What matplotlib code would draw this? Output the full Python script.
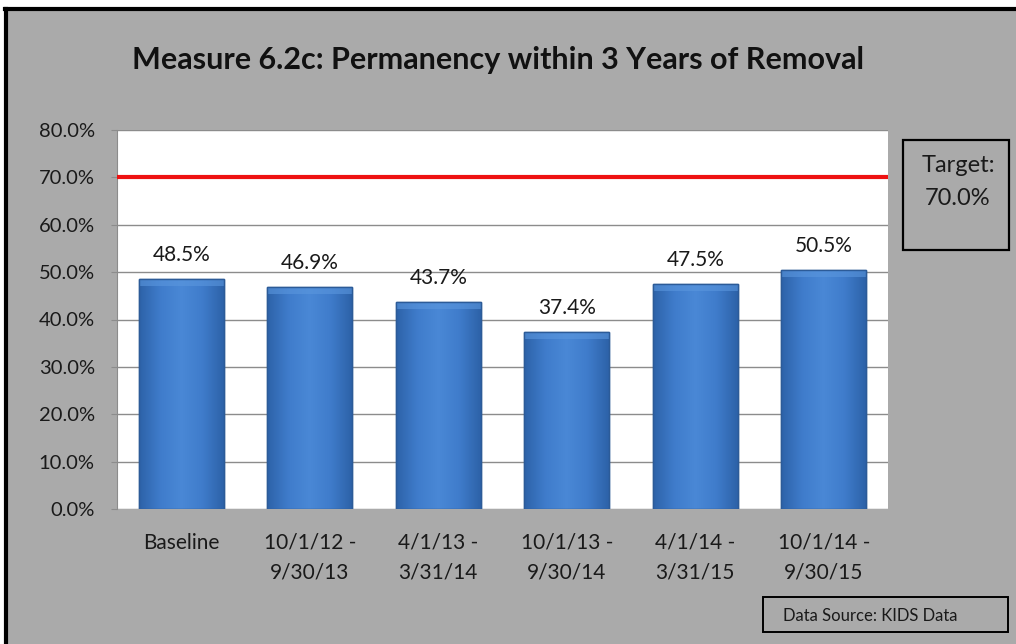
import matplotlib
matplotlib.use("Agg")
import matplotlib.pyplot as plt
import numpy as np
from matplotlib.patches import Rectangle
from matplotlib.lines import Line2D
from matplotlib.colors import LinearSegmentedColormap

categories = ["Baseline", "10/1/12 -\n9/30/13", "4/1/13 -\n3/31/14",
              "10/1/13 -\n9/30/14", "4/1/14 -\n3/31/15", "10/1/14 -\n9/30/15"]
values = [48.5, 46.9, 43.7, 37.4, 47.5, 50.5]
target = 70.0
yticks = [0, 10, 20, 30, 40, 50, 60, 70, 80]

plt.rcParams['font.family'] = ['Lato', 'DejaVu Sans']
bg = '#aaaaaa'
fig = plt.figure(figsize=(10.16, 6.44), dpi=100)
fig.patch.set_facecolor('white')
# gray panel with black border on top and left
fig.patches.append(Rectangle((5/1016, 0), 1.0, (644-9)/644, transform=fig.transFigure,
                             facecolor=bg, edgecolor='none', zorder=-5))
fig.lines.append(Line2D([5/1016, 1.0], [(644-9)/644] * 2, transform=fig.transFigure,
                        color='black', linewidth=3, zorder=-4))
fig.lines.append(Line2D([6/1016] * 2, [0, (644-9)/644], transform=fig.transFigure,
                        color='black', linewidth=3, zorder=-4))

ax = fig.add_axes([117/1016, (644-509)/644, 771/1016, 379/644])
ax.set_zorder(1)
ax.set_facecolor('white')
x = np.arange(len(categories))
bars = ax.bar(x, values, width=0.66, color='#3b77c6', edgecolor='#2c5b98', linewidth=1.0, zorder=3)

cmap = LinearSegmentedColormap.from_list('b', ['#2d62a8', '#3f7ccb', '#4a88d6', '#3f7ccb', '#2d62a8'])
grad = np.linspace(0, 1, 256).reshape(1, -1)
for b in bars:
    bx, by = b.get_x(), b.get_y()
    w, h = b.get_width(), b.get_height()
    im = ax.imshow(grad, cmap=cmap, extent=[bx, bx + w, by, by + h], aspect='auto', zorder=3.5,
                   interpolation='bicubic')
    im.set_clip_path(b)
    ax.add_patch(Rectangle((bx, by + h - 1.5), w, 1.5, facecolor='#5b97de', edgecolor='none',
                           alpha=0.6, zorder=3.6))
    ax.add_patch(Rectangle((bx, by), w, h, facecolor='none', edgecolor='#2c5b98', linewidth=1.0, zorder=3.7))

for xi, v in zip(x, values):
    ax.text(xi, v + 3.0, f"{v:.1f}%", ha='center', va='bottom', fontsize=15, color='#1a1a1a', zorder=5)

ax.axhline(target, color='#ee1111', linewidth=3, zorder=4)

ax.set_ylim(0, 80)
ax.set_xlim(-0.5, len(categories) - 0.5)
ax.set_yticks(yticks)
ax.set_yticklabels([f"{t:.1f}%" for t in yticks], fontsize=14.5, color='#1a1a1a')
ax.yaxis.grid(True, color='#8c8c8c', linewidth=1.0, zorder=0)
ax.set_axisbelow(True)
ax.set_xticks(x)
ax.set_xticklabels(categories, fontsize=15, color='#1a1a1a', linespacing=1.6)
ax.tick_params(axis='x', length=0, pad=17)
ax.tick_params(axis='y', length=4, color='#8c8c8c', pad=12)
for s in ['top', 'right', 'bottom']:
    ax.spines[s].set_visible(False)
ax.spines['left'].set_color('#8c8c8c')

fig.text(498/1016, 1 - 60/644, "Measure 6.2c: Permanency within 3 Years of Removal",
         ha='center', va='center', fontsize=22, fontweight='bold', color='#111111')

# Target box
fig.patches.append(Rectangle((903/1016, 1 - 250/644), 106/1016, 110/644, transform=fig.transFigure,
                             facecolor='none', edgecolor='black', linewidth=1.6, zorder=5))
fig.text(958/1016, 1 - 166/644, "Target:", ha='center', va='center', fontsize=17, color='#1a1a1a')
fig.text(958/1016, 1 - 199/644, "70.0%", ha='center', va='center', fontsize=17, color='#1a1a1a')

# Data source box
fig.patches.append(Rectangle((763/1016, 1 - 632/644), 245/1016, 35/644, transform=fig.transFigure,
                             facecolor='none', edgecolor='black', linewidth=1.4, zorder=5))
fig.text(783/1016, 1 - 616/644, "Data Source: KIDS Data", ha='left', va='center', fontsize=12,
         color='#1a1a1a')

fig.savefig('out.png', dpi=100)
